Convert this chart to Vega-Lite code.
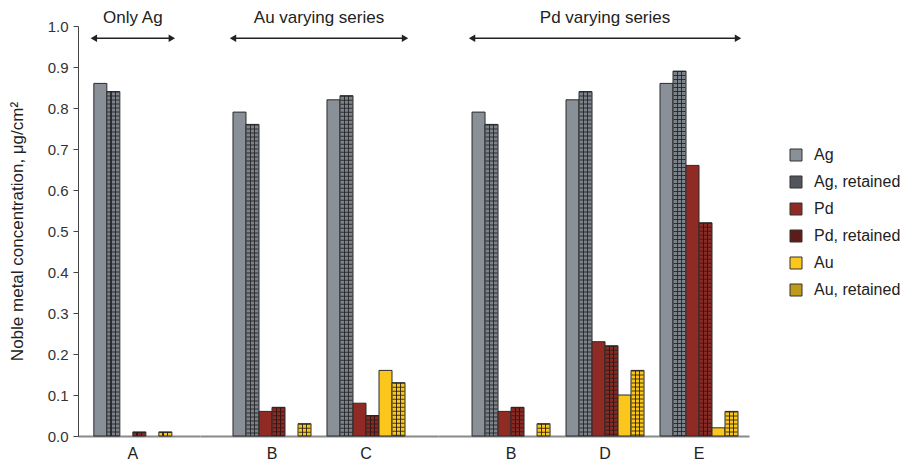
{
  "$schema": "https://vega.github.io/schema/vega-lite/v6.json",
  "padding": {"left": 8, "top": 8, "right": 5, "bottom": 5},
  "config": {"font": "Liberation Sans", "view": {"stroke": null}},
  "spacing": 0,
  "datasets": {
    "bars": [
      {"panel": "Only Ag", "grp": "A", "series": "Ag", "value": 0.86},
      {"panel": "Only Ag", "grp": "A", "series": "Ag, retained", "value": 0.84},
      {"panel": "Only Ag", "grp": "A", "series": "Pd", "value": 0},
      {"panel": "Only Ag", "grp": "A", "series": "Pd, retained", "value": 0.01},
      {"panel": "Only Ag", "grp": "A", "series": "Au", "value": 0},
      {"panel": "Only Ag", "grp": "A", "series": "Au, retained", "value": 0.01},
      {"panel": "Au varying series", "grp": "B1", "series": "Ag", "value": 0.79},
      {"panel": "Au varying series", "grp": "B1", "series": "Ag, retained", "value": 0.76},
      {"panel": "Au varying series", "grp": "B1", "series": "Pd", "value": 0.06},
      {"panel": "Au varying series", "grp": "B1", "series": "Pd, retained", "value": 0.07},
      {"panel": "Au varying series", "grp": "B1", "series": "Au", "value": 0},
      {"panel": "Au varying series", "grp": "B1", "series": "Au, retained", "value": 0.03},
      {"panel": "Au varying series", "grp": "C", "series": "Ag", "value": 0.82},
      {"panel": "Au varying series", "grp": "C", "series": "Ag, retained", "value": 0.83},
      {"panel": "Au varying series", "grp": "C", "series": "Pd", "value": 0.08},
      {"panel": "Au varying series", "grp": "C", "series": "Pd, retained", "value": 0.05},
      {"panel": "Au varying series", "grp": "C", "series": "Au", "value": 0.16},
      {"panel": "Au varying series", "grp": "C", "series": "Au, retained", "value": 0.13},
      {"panel": "Pd varying series", "grp": "B2", "series": "Ag", "value": 0.79},
      {"panel": "Pd varying series", "grp": "B2", "series": "Ag, retained", "value": 0.76},
      {"panel": "Pd varying series", "grp": "B2", "series": "Pd", "value": 0.06},
      {"panel": "Pd varying series", "grp": "B2", "series": "Pd, retained", "value": 0.07},
      {"panel": "Pd varying series", "grp": "B2", "series": "Au", "value": 0},
      {"panel": "Pd varying series", "grp": "B2", "series": "Au, retained", "value": 0.03},
      {"panel": "Pd varying series", "grp": "D", "series": "Ag", "value": 0.82},
      {"panel": "Pd varying series", "grp": "D", "series": "Ag, retained", "value": 0.84},
      {"panel": "Pd varying series", "grp": "D", "series": "Pd", "value": 0.23},
      {"panel": "Pd varying series", "grp": "D", "series": "Pd, retained", "value": 0.22},
      {"panel": "Pd varying series", "grp": "D", "series": "Au", "value": 0.10},
      {"panel": "Pd varying series", "grp": "D", "series": "Au, retained", "value": 0.16},
      {"panel": "Pd varying series", "grp": "E", "series": "Ag", "value": 0.86},
      {"panel": "Pd varying series", "grp": "E", "series": "Ag, retained", "value": 0.89},
      {"panel": "Pd varying series", "grp": "E", "series": "Pd", "value": 0.66},
      {"panel": "Pd varying series", "grp": "E", "series": "Pd, retained", "value": 0.52},
      {"panel": "Pd varying series", "grp": "E", "series": "Au", "value": 0.02},
      {"panel": "Pd varying series", "grp": "E", "series": "Au, retained", "value": 0.06}
    ],
    "notes": [
      {"panel": "Only Ag", "first": "A", "last": "A", "mid": "A", "label": "Only Ag"},
      {"panel": "Au varying series", "first": "B1", "last": "C", "mid": "B1", "label": "Au varying series"},
      {"panel": "Pd varying series", "first": "B2", "last": "E", "mid": "D", "label": "Pd varying series"}
    ]
  },
  "resolve": {"scale": {"x": "independent", "y": "shared", "fill": "shared", "xOffset": "independent"}, "legend": {"fill": "shared"}},
  "hconcat": [
    {
      "width": 122, "height": 410,
      "layer": [
        {
          "data": {"name": "bars"},
          "transform": [{"filter": "datum.panel === 'Only Ag' && datum.value > 0"}],
          "mark": {"type": "bar", "stroke": "#2a2a2a", "strokeWidth": 1},
          "encoding": {
            "x": {"field": "grp", "type": "nominal", "scale": {"paddingInner": 0.17, "paddingOuter": 0.234, "align": 0.36},
                  "axis": {"title": null, "labelExpr": "datum.value === 'B1' || datum.value === 'B2' ? 'B' : datum.value", "ticks": false, "domainColor": "#8a8a8a", "domainWidth": 2, "labelFontSize": 16, "labelColor": "#222", "labelAngle": 0, "labelPadding": 9}},
            "xOffset": {"field": "series", "type": "nominal", "scale": {"domain": ["Ag", "Ag, retained", "Pd", "Pd, retained", "Au", "Au, retained"], "paddingInner": 0, "paddingOuter": 0}},
            "y": {"field": "value", "type": "quantitative", "scale": {"domain": [0, 1], "nice": false},
                  "axis": {"values": [0, 0.1, 0.2, 0.3, 0.4, 0.5, 0.6, 0.7, 0.8, 0.9, 1.0], "format": ".1f", "grid": false, "tickSize": 5, "tickColor": "#444", "domainColor": "#444", "labelFontSize": 15, "labelColor": "#333", "labelPadding": 5, "title": "Noble metal concentration, μg/cm²", "titleFontSize": 17, "titleFontWeight": "normal", "titleColor": "#222", "titlePadding": 21}},
            "fill": {"field": "series", "type": "nominal",
                     "scale": {"domain": ["Ag", "Ag, retained", "Pd", "Pd, retained", "Au", "Au, retained"], "range": ["#8a9098", "#52565c", "#8f2a24", "#5e1c17", "#fcc71b", "#c09a1c"]},
                     "legend": {"title": null, "orient": "none", "legendX": 710, "legendY": 121, "symbolType": "square", "symbolSize": 144, "labelFontSize": 16, "labelColor": "#222", "symbolStrokeColor": "#333", "symbolStrokeWidth": 1, "rowPadding": 11, "labelOffset": 10},
                     "condition": [
                       {"test": "datum.series === 'Ag, retained'", "value": {"gradient": "linear", "x1": 0, "y1": 0, "x2": 1, "y2": 0, "stops": [{"offset": 0, "color": "#7d838b"}, {"offset": 0.28, "color": "#7d838b"}, {"offset": 0.28, "color": "#2e3033"}, {"offset": 0.38, "color": "#2e3033"}, {"offset": 0.38, "color": "#7d838b"}, {"offset": 0.62, "color": "#7d838b"}, {"offset": 0.62, "color": "#2e3033"}, {"offset": 0.72, "color": "#2e3033"}, {"offset": 0.72, "color": "#7d838b"}, {"offset": 1, "color": "#7d838b"}]}},
                       {"test": "datum.series === 'Pd, retained'", "value": {"gradient": "linear", "x1": 0, "y1": 0, "x2": 1, "y2": 0, "stops": [{"offset": 0, "color": "#8a2a22"}, {"offset": 0.28, "color": "#8a2a22"}, {"offset": 0.28, "color": "#3a1210"}, {"offset": 0.38, "color": "#3a1210"}, {"offset": 0.38, "color": "#8a2a22"}, {"offset": 0.62, "color": "#8a2a22"}, {"offset": 0.62, "color": "#3a1210"}, {"offset": 0.72, "color": "#3a1210"}, {"offset": 0.72, "color": "#8a2a22"}, {"offset": 1, "color": "#8a2a22"}]}},
                       {"test": "datum.series === 'Au, retained'", "value": {"gradient": "linear", "x1": 0, "y1": 0, "x2": 1, "y2": 0, "stops": [{"offset": 0, "color": "#fcc71b"}, {"offset": 0.28, "color": "#fcc71b"}, {"offset": 0.28, "color": "#3a3020"}, {"offset": 0.38, "color": "#3a3020"}, {"offset": 0.38, "color": "#fcc71b"}, {"offset": 0.62, "color": "#fcc71b"}, {"offset": 0.62, "color": "#3a3020"}, {"offset": 0.72, "color": "#3a3020"}, {"offset": 0.72, "color": "#fcc71b"}, {"offset": 1, "color": "#fcc71b"}]}}
                     ]}
          }
        },
        {
          "data": {"name": "bars"},
          "transform": [{"filter": "datum.panel === 'Only Ag' && datum.value > 0 && indexof(datum.series, 'retained') >= 0"}],
          "mark": {"type": "rule", "strokeWidth": 12, "strokeDash": [1, 3], "color": "#222", "opacity": 0.85},
          "encoding": {
            "x": {"field": "grp", "type": "nominal"},
            "xOffset": {"field": "series", "type": "nominal"},
            "y": {"field": "value", "type": "quantitative"},
            "y2": {"datum": 0}
          }
        },
        {
          "data": {"name": "notes"},
          "transform": [{"filter": "datum.panel === 'Only Ag'"}],
          "mark": {"type": "rule", "strokeWidth": 1.5, "color": "#222"},
          "encoding": {
            "x": {"field": "first", "type": "nominal", "bandPosition": 0},
            "x2": {"field": "last", "bandPosition": 1},
            "y": {"datum": 0.97}
          }
        },
        {
          "data": {"name": "notes"},
          "transform": [{"filter": "datum.panel === 'Only Ag'"}],
          "mark": {"type": "point", "shape": "triangle-left", "filled": true, "size": 55, "color": "#222", "opacity": 1},
          "encoding": {"x": {"field": "first", "type": "nominal", "bandPosition": 0}, "y": {"datum": 0.97}}
        },
        {
          "data": {"name": "notes"},
          "transform": [{"filter": "datum.panel === 'Only Ag'"}],
          "mark": {"type": "point", "shape": "triangle-right", "filled": true, "size": 55, "color": "#222", "opacity": 1},
          "encoding": {"x": {"field": "last", "type": "nominal", "bandPosition": 1}, "y": {"datum": 0.97}}
        },
        {
          "data": {"name": "notes"},
          "transform": [{"filter": "datum.panel === 'Only Ag'"}],
          "mark": {"type": "text", "fontSize": 17, "color": "#222", "baseline": "middle"},
          "encoding": {"x": {"field": "mid", "type": "nominal", "bandPosition": 0.5}, "y": {"datum": 1.02}, "text": {"field": "label"}}
        }
      ]
    },
    {
      "width": 238, "height": 410,
      "layer": [
        {
          "data": {"name": "bars"},
          "transform": [{"filter": "datum.panel === 'Au varying series' && datum.value > 0"}],
          "mark": {"type": "bar", "stroke": "#2a2a2a", "strokeWidth": 1},
          "encoding": {
            "x": {"field": "grp", "type": "nominal", "scale": {"paddingInner": 0.17, "paddingOuter": 0.351, "align": 0.5},
                  "axis": {"title": null, "labelExpr": "datum.value === 'B1' || datum.value === 'B2' ? 'B' : datum.value", "ticks": false, "domainColor": "#8a8a8a", "domainWidth": 2, "labelFontSize": 16, "labelColor": "#222", "labelAngle": 0, "labelPadding": 9}},
            "xOffset": {"field": "series", "type": "nominal", "scale": {"domain": ["Ag", "Ag, retained", "Pd", "Pd, retained", "Au", "Au, retained"], "paddingInner": 0, "paddingOuter": 0}},
            "y": {"field": "value", "type": "quantitative", "axis": null},
            "fill": {"field": "series", "type": "nominal",
                     "legend": {"title": null, "orient": "none", "legendX": 710, "legendY": 121, "symbolType": "square", "symbolSize": 144, "labelFontSize": 16, "labelColor": "#222", "symbolStrokeColor": "#333", "symbolStrokeWidth": 1, "rowPadding": 11, "labelOffset": 10},
                     "condition": [
                       {"test": "datum.series === 'Ag, retained'", "value": {"gradient": "linear", "x1": 0, "y1": 0, "x2": 1, "y2": 0, "stops": [{"offset": 0, "color": "#7d838b"}, {"offset": 0.28, "color": "#7d838b"}, {"offset": 0.28, "color": "#2e3033"}, {"offset": 0.38, "color": "#2e3033"}, {"offset": 0.38, "color": "#7d838b"}, {"offset": 0.62, "color": "#7d838b"}, {"offset": 0.62, "color": "#2e3033"}, {"offset": 0.72, "color": "#2e3033"}, {"offset": 0.72, "color": "#7d838b"}, {"offset": 1, "color": "#7d838b"}]}},
                       {"test": "datum.series === 'Pd, retained'", "value": {"gradient": "linear", "x1": 0, "y1": 0, "x2": 1, "y2": 0, "stops": [{"offset": 0, "color": "#8a2a22"}, {"offset": 0.28, "color": "#8a2a22"}, {"offset": 0.28, "color": "#3a1210"}, {"offset": 0.38, "color": "#3a1210"}, {"offset": 0.38, "color": "#8a2a22"}, {"offset": 0.62, "color": "#8a2a22"}, {"offset": 0.62, "color": "#3a1210"}, {"offset": 0.72, "color": "#3a1210"}, {"offset": 0.72, "color": "#8a2a22"}, {"offset": 1, "color": "#8a2a22"}]}},
                       {"test": "datum.series === 'Au, retained'", "value": {"gradient": "linear", "x1": 0, "y1": 0, "x2": 1, "y2": 0, "stops": [{"offset": 0, "color": "#fcc71b"}, {"offset": 0.28, "color": "#fcc71b"}, {"offset": 0.28, "color": "#3a3020"}, {"offset": 0.38, "color": "#3a3020"}, {"offset": 0.38, "color": "#fcc71b"}, {"offset": 0.62, "color": "#fcc71b"}, {"offset": 0.62, "color": "#3a3020"}, {"offset": 0.72, "color": "#3a3020"}, {"offset": 0.72, "color": "#fcc71b"}, {"offset": 1, "color": "#fcc71b"}]}}
                     ]}
          }
        },
        {
          "data": {"name": "bars"},
          "transform": [{"filter": "datum.panel === 'Au varying series' && datum.value > 0 && indexof(datum.series, 'retained') >= 0"}],
          "mark": {"type": "rule", "strokeWidth": 12, "strokeDash": [1, 3], "color": "#222", "opacity": 0.85},
          "encoding": {
            "x": {"field": "grp", "type": "nominal"},
            "xOffset": {"field": "series", "type": "nominal"},
            "y": {"field": "value", "type": "quantitative"},
            "y2": {"datum": 0}
          }
        },
        {
          "data": {"name": "notes"},
          "transform": [{"filter": "datum.panel === 'Au varying series'"}],
          "mark": {"type": "rule", "strokeWidth": 1.5, "color": "#222"},
          "encoding": {
            "x": {"field": "first", "type": "nominal", "bandPosition": 0},
            "x2": {"field": "last", "bandPosition": 1},
            "y": {"datum": 0.97}
          }
        },
        {
          "data": {"name": "notes"},
          "transform": [{"filter": "datum.panel === 'Au varying series'"}],
          "mark": {"type": "point", "shape": "triangle-left", "filled": true, "size": 55, "color": "#222", "opacity": 1},
          "encoding": {"x": {"field": "first", "type": "nominal", "bandPosition": 0}, "y": {"datum": 0.97}}
        },
        {
          "data": {"name": "notes"},
          "transform": [{"filter": "datum.panel === 'Au varying series'"}],
          "mark": {"type": "point", "shape": "triangle-right", "filled": true, "size": 55, "color": "#222", "opacity": 1},
          "encoding": {"x": {"field": "last", "type": "nominal", "bandPosition": 1}, "y": {"datum": 0.97}}
        },
        {
          "data": {"name": "notes"},
          "transform": [{"filter": "datum.panel === 'Au varying series'"}],
          "mark": {"type": "text", "fontSize": 17, "color": "#222", "baseline": "middle", "dx": 8},
          "encoding": {"x": {"field": "mid", "type": "nominal", "bandPosition": 1}, "y": {"datum": 1.02}, "text": {"field": "label"}}
        }
      ]
    },
    {
      "width": 311, "height": 410,
      "layer": [
        {
          "data": {"name": "bars"},
          "transform": [{"filter": "datum.panel === 'Pd varying series' && datum.value > 0"}],
          "mark": {"type": "bar", "stroke": "#2a2a2a", "strokeWidth": 1},
          "encoding": {
            "x": {"field": "grp", "type": "nominal", "scale": {"paddingInner": 0.17, "paddingOuter": 0.2395, "align": 0.756},
                  "axis": {"title": null, "labelExpr": "datum.value === 'B1' || datum.value === 'B2' ? 'B' : datum.value", "ticks": false, "domainColor": "#8a8a8a", "domainWidth": 2, "labelFontSize": 16, "labelColor": "#222", "labelAngle": 0, "labelPadding": 9}},
            "xOffset": {"field": "series", "type": "nominal", "scale": {"domain": ["Ag", "Ag, retained", "Pd", "Pd, retained", "Au", "Au, retained"], "paddingInner": 0, "paddingOuter": 0}},
            "y": {"field": "value", "type": "quantitative", "axis": null},
            "fill": {"field": "series", "type": "nominal",
                     "legend": {"title": null, "orient": "none", "legendX": 710, "legendY": 121, "symbolType": "square", "symbolSize": 144, "labelFontSize": 16, "labelColor": "#222", "symbolStrokeColor": "#333", "symbolStrokeWidth": 1, "rowPadding": 11, "labelOffset": 10},
                     "condition": [
                       {"test": "datum.series === 'Ag, retained'", "value": {"gradient": "linear", "x1": 0, "y1": 0, "x2": 1, "y2": 0, "stops": [{"offset": 0, "color": "#7d838b"}, {"offset": 0.28, "color": "#7d838b"}, {"offset": 0.28, "color": "#2e3033"}, {"offset": 0.38, "color": "#2e3033"}, {"offset": 0.38, "color": "#7d838b"}, {"offset": 0.62, "color": "#7d838b"}, {"offset": 0.62, "color": "#2e3033"}, {"offset": 0.72, "color": "#2e3033"}, {"offset": 0.72, "color": "#7d838b"}, {"offset": 1, "color": "#7d838b"}]}},
                       {"test": "datum.series === 'Pd, retained'", "value": {"gradient": "linear", "x1": 0, "y1": 0, "x2": 1, "y2": 0, "stops": [{"offset": 0, "color": "#8a2a22"}, {"offset": 0.28, "color": "#8a2a22"}, {"offset": 0.28, "color": "#3a1210"}, {"offset": 0.38, "color": "#3a1210"}, {"offset": 0.38, "color": "#8a2a22"}, {"offset": 0.62, "color": "#8a2a22"}, {"offset": 0.62, "color": "#3a1210"}, {"offset": 0.72, "color": "#3a1210"}, {"offset": 0.72, "color": "#8a2a22"}, {"offset": 1, "color": "#8a2a22"}]}},
                       {"test": "datum.series === 'Au, retained'", "value": {"gradient": "linear", "x1": 0, "y1": 0, "x2": 1, "y2": 0, "stops": [{"offset": 0, "color": "#fcc71b"}, {"offset": 0.28, "color": "#fcc71b"}, {"offset": 0.28, "color": "#3a3020"}, {"offset": 0.38, "color": "#3a3020"}, {"offset": 0.38, "color": "#fcc71b"}, {"offset": 0.62, "color": "#fcc71b"}, {"offset": 0.62, "color": "#3a3020"}, {"offset": 0.72, "color": "#3a3020"}, {"offset": 0.72, "color": "#fcc71b"}, {"offset": 1, "color": "#fcc71b"}]}}
                     ]}
          }
        },
        {
          "data": {"name": "bars"},
          "transform": [{"filter": "datum.panel === 'Pd varying series' && datum.value > 0 && indexof(datum.series, 'retained') >= 0"}],
          "mark": {"type": "rule", "strokeWidth": 12, "strokeDash": [1, 3], "color": "#222", "opacity": 0.85},
          "encoding": {
            "x": {"field": "grp", "type": "nominal"},
            "xOffset": {"field": "series", "type": "nominal"},
            "y": {"field": "value", "type": "quantitative"},
            "y2": {"datum": 0}
          }
        },
        {
          "data": {"name": "notes"},
          "transform": [{"filter": "datum.panel === 'Pd varying series'"}],
          "mark": {"type": "rule", "strokeWidth": 1.5, "color": "#222"},
          "encoding": {
            "x": {"field": "first", "type": "nominal", "bandPosition": 0},
            "x2": {"field": "last", "bandPosition": 1},
            "y": {"datum": 0.97}
          }
        },
        {
          "data": {"name": "notes"},
          "transform": [{"filter": "datum.panel === 'Pd varying series'"}],
          "mark": {"type": "point", "shape": "triangle-left", "filled": true, "size": 55, "color": "#222", "opacity": 1},
          "encoding": {"x": {"field": "first", "type": "nominal", "bandPosition": 0}, "y": {"datum": 0.97}}
        },
        {
          "data": {"name": "notes"},
          "transform": [{"filter": "datum.panel === 'Pd varying series'"}],
          "mark": {"type": "point", "shape": "triangle-right", "filled": true, "size": 55, "color": "#222", "opacity": 1},
          "encoding": {"x": {"field": "last", "type": "nominal", "bandPosition": 1}, "y": {"datum": 0.97}}
        },
        {
          "data": {"name": "notes"},
          "transform": [{"filter": "datum.panel === 'Pd varying series'"}],
          "mark": {"type": "text", "fontSize": 17, "color": "#222", "baseline": "middle"},
          "encoding": {"x": {"field": "mid", "type": "nominal", "bandPosition": 0.5}, "y": {"datum": 1.02}, "text": {"field": "label"}}
        }
      ]
    }
  ]
}
